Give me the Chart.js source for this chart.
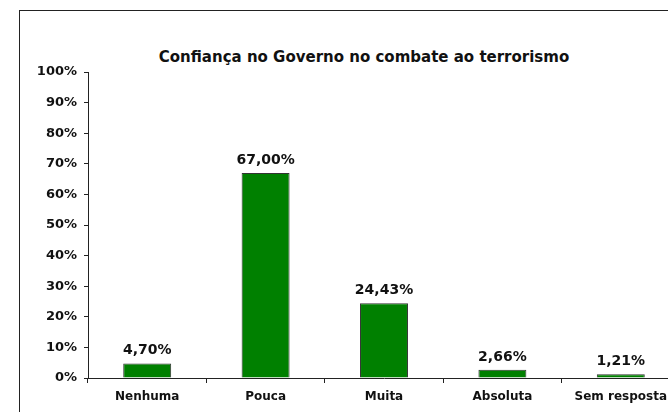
<!DOCTYPE html>
<html>
<head>
<meta charset="utf-8">
<script src="https://cdn.jsdelivr.net/npm/chart.js@4"></script>
<style>
  body { margin: 0; overflow: hidden; background: #fff; }
  #frame { position: absolute; left: 19px; top: 10px; width: 688px; height: 440px;
           border-left: 1px solid #222; border-top: 1px solid #222; }
  #title { position: absolute; left: 0; width: 100%; top: 37px; text-align: center;
           font: bold 15px 'DejaVu Sans', Verdana, sans-serif; color: #111; line-height: 18px; }
  #chart { position: absolute; left: 0; top: 0; }
</style>
</head>
<body>
<div id="frame"><div id="title"></div></div>
<canvas id="chart" width="720" height="412"></canvas>
<script>
const categories = ["Nenhuma", "Pouca", "Muita", "Absoluta", "Sem resposta"];
const values = [4.70, 67.00, 24.43, 2.66, 1.21];
const yTicks = [0, 10, 20, 30, 40, 50, 60, 70, 80, 90, 100];
const title = "Confiança no Governo no combate ao terrorismo";

const FONT = "'DejaVu Sans', Verdana, sans-serif";

document.getElementById("title").textContent = title;

function pct(v) {
  return v.toFixed(2).replace(".", ",") + "%";
}

// rótulos em cima das barras
const valueLabels = {
  id: "valueLabels",
  afterDatasetsDraw(chart) {
    const ctx = chart.ctx;
    const meta = chart.getDatasetMeta(0);
    ctx.save();
    ctx.font = "bold 14px " + FONT;
    ctx.fillStyle = "#111";
    ctx.textAlign = "center";
    ctx.textBaseline = "bottom";
    meta.data.forEach((bar, i) => {
      ctx.fillText(pct(values[i]), bar.x, bar.y - 6);
    });
    ctx.restore();
  }
};

new Chart(document.getElementById("chart"), {
  type: "bar",
  data: {
    labels: categories,
    datasets: [{
      data: values,
      backgroundColor: "#008000",
      borderColor: "#333",
      borderWidth: 1,
      categoryPercentage: 1,
      barPercentage: 0.405
    }]
  },
  options: {
    responsive: false,
    animation: false,
    layout: { padding: { left: 0, right: 40, top: 72, bottom: 0 } },
    plugins: {
      legend: { display: false },
      tooltip: { enabled: false },
      title: { display: false }
    },
    scales: {
      x: {
        afterFit(s) { s.height = 34; },
        grid: { offset: true, drawOnChartArea: false, tickLength: 5, color: "#222" },
        border: { color: "#222" },
        ticks: { color: "#111", font: { family: FONT, size: 12, weight: "bold" }, padding: 7 }
      },
      y: {
        min: 0,
        max: 100,
        afterFit(s) { s.width = 88; },
        afterBuildTicks(s) { s.ticks = yTicks.map(v => ({ value: v })); },
        grid: { drawOnChartArea: false, tickLength: 4, color: "#222" },
        border: { color: "#222" },
        ticks: {
          color: "#111",
          font: { family: FONT, size: 13, weight: "bold" },
          padding: 7,
          callback: v => v + "%"
        }
      }
    }
  },
  plugins: [valueLabels]
});
</script>
</body>
</html>
